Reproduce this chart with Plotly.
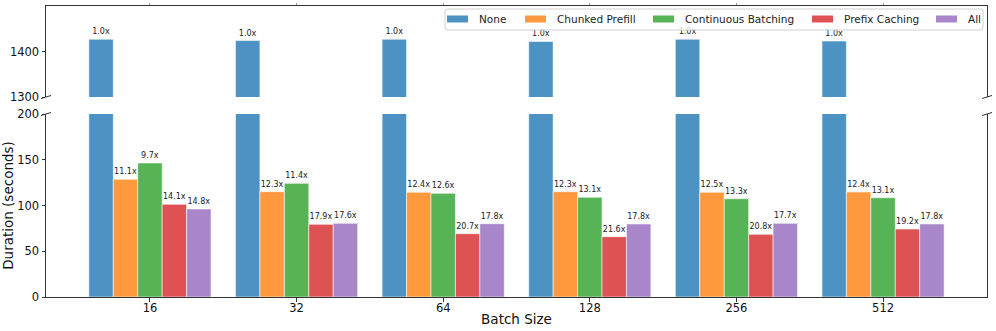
import plotly.graph_objects as go

batch_sizes = ["16", "32", "64", "128", "256", "512"]
series_names = ["None", "Chunked Prefill", "Continuous Batching", "Prefix Caching", "All"]
none_vals = [1427, 1424, 1427, 1422, 1427, 1423]
chunked_vals = [128.6, 115.1, 114.4, 115.1, 114.4, 114.8]
continuous_vals = [146.4, 124.2, 113.3, 109.0, 107.4, 108.5]
prefix_vals = [101.3, 79.4, 69.2, 65.9, 68.5, 74.3]
all_vals = [96.2, 80.5, 80.1, 79.8, 80.5, 79.8]
none_labels = ["1.0x"] * 6
chunked_labels = ["11.1x", "12.3x", "12.4x", "12.3x", "12.5x", "12.4x"]
continuous_labels = ["9.7x", "11.4x", "12.6x", "13.1x", "13.3x", "13.1x"]
prefix_labels = ["14.1x", "17.9x", "20.7x", "21.6x", "20.8x", "19.2x"]
all_labels = ["14.8x", "17.6x", "17.8x", "17.8x", "17.7x", "17.8x"]
colors = ["#4c92c3", "#ff993e", "#56b356", "#de5253", "#a985ca"]

values = [none_vals, chunked_vals, continuous_vals, prefix_vals, all_vals]
labels = [none_labels, chunked_labels, continuous_labels, prefix_labels, all_labels]

W, H = 996, 331
L, R, T, B = 46, 9, 6, 34
PW, PH = W - L - R, H - T - B
top_px = (6, 97)
bot_px = (114, 297)

def py(p):
    return (H - B - p) / PH

def px(p):
    return (p - L) / PW

FONT = "DejaVu Sans"
SPINE = "#333333"

fig = go.Figure()
for i, name in enumerate(series_names):
    # bottom panel
    fig.add_trace(go.Bar(
        x=batch_sizes, y=values[i], name=name,
        marker=dict(color=colors[i], line=dict(color="rgba(255,255,255,0.7)", width=0.8)),
        text=(labels[i] if i > 0 else None), textposition="outside",
        textfont=dict(size=8, color="#222", family=FONT),
        cliponaxis=True, xaxis="x", yaxis="y", showlegend=False,
    ))
for i, name in enumerate(series_names):
    # top panel
    fig.add_trace(go.Bar(
        x=batch_sizes, y=values[i], name=name,
        marker=dict(color=colors[i], line=dict(color="rgba(255,255,255,0.7)", width=0.8)),
        text=(labels[i] if i == 0 else None), textposition="outside",
        textfont=dict(size=8, color="#222", family=FONT),
        cliponaxis=True, xaxis="x2", yaxis="y2", showlegend=False,
    ))

xr = [-0.709, 5.709]
shapes = []
# broken-axis marks
for yp in (97, 114):
    for xc in (46, 987):
        shapes.append(dict(type="line", xref="paper", yref="paper",
                           x0=px(xc - 5), y0=py(yp + 1.5), x1=px(xc + 5), y1=py(yp - 1.5),
                           line=dict(color=SPINE, width=1)))

# legend (drawn by hand to match the compact matplotlib legend)
lx0, lx1, ly0, ly1, rr = 445, 983, 9, 30, 3
path = (f"M {px(lx0 + rr)},{py(ly0)} L {px(lx1 - rr)},{py(ly0)} "
        f"Q {px(lx1)},{py(ly0)} {px(lx1)},{py(ly0 + rr)} "
        f"L {px(lx1)},{py(ly1 - rr)} Q {px(lx1)},{py(ly1)} {px(lx1 - rr)},{py(ly1)} "
        f"L {px(lx0 + rr)},{py(ly1)} Q {px(lx0)},{py(ly1)} {px(lx0)},{py(ly1 - rr)} "
        f"L {px(lx0)},{py(ly0 + rr)} Q {px(lx0)},{py(ly0)} {px(lx0 + rr)},{py(ly0)} Z")
shapes.append(dict(type="path", xref="paper", yref="paper", path=path,
                   fillcolor="rgba(255,255,255,0.8)", line=dict(color="#d0d0d0", width=1),
                   layer="above"))
swatch_x = [447, 525, 653, 812, 936]
annotations = []
for i, name in enumerate(series_names):
    sx = swatch_x[i]
    shapes.append(dict(type="rect", xref="paper", yref="paper",
                       x0=px(sx), x1=px(sx + 21), y0=py(22.5), y1=py(15.5),
                       fillcolor=colors[i], line=dict(width=0), layer="above"))
    annotations.append(dict(xref="paper", yref="paper", x=px(sx + 30), y=py(19.5),
                            text=name, showarrow=False, xanchor="left", yanchor="middle",
                            font=dict(size=10.5, color="#222", family=FONT)))

fig.update_layout(
    width=W, height=H,
    margin=dict(l=L, r=R, t=T, b=B, autoexpand=False),
    paper_bgcolor="white", plot_bgcolor="white",
    font=dict(family=FONT, size=11.5, color="#111"),
    barmode="group", bargap=1/6, bargroupgap=0,
    showlegend=False,
    xaxis=dict(domain=[0, 1], anchor="y", range=xr, type="category", automargin=False,
               showline=True, linecolor=SPINE, linewidth=1,
               ticks="outside", ticklen=3.5, tickcolor=SPINE, ticklabelstandoff=-3,
               showgrid=False, zeroline=False,
               title=dict(text="Batch Size", font=dict(size=13.5), standoff=0)),
    xaxis2=dict(domain=[0, 1], anchor="y2", range=xr, type="category", matches="x",
                side="top", showline=True, linecolor=SPINE, linewidth=1, automargin=False,
                ticks="outside", ticklen=2, tickcolor="#999", showticklabels=False,
                showgrid=False, zeroline=False),
    yaxis=dict(domain=[0, py(bot_px[0])], range=[0, 200], automargin=False,
               tickvals=[0, 50, 100, 150, 200],
               showline=True, linecolor=SPINE, linewidth=1, mirror=True,
               ticks="outside", ticklen=3.5, tickcolor=SPINE,
               showgrid=False, zeroline=False,
               title=dict(text="Duration (seconds)", font=dict(size=13.5), standoff=2)),
    yaxis2=dict(domain=[py(top_px[1]), 1], range=[1300, 1500], automargin=False,
                tickvals=[1300, 1400],
                showline=True, linecolor=SPINE, linewidth=1, mirror=True,
                ticks="outside", ticklen=3.5, tickcolor=SPINE,
                showgrid=False, zeroline=False),
    shapes=shapes,
    annotations=annotations,
)

fig.write_html("out.html", config={"displayModeBar": False},
               post_script="document.body.style.margin='0';document.body.style.overflow='hidden';")
